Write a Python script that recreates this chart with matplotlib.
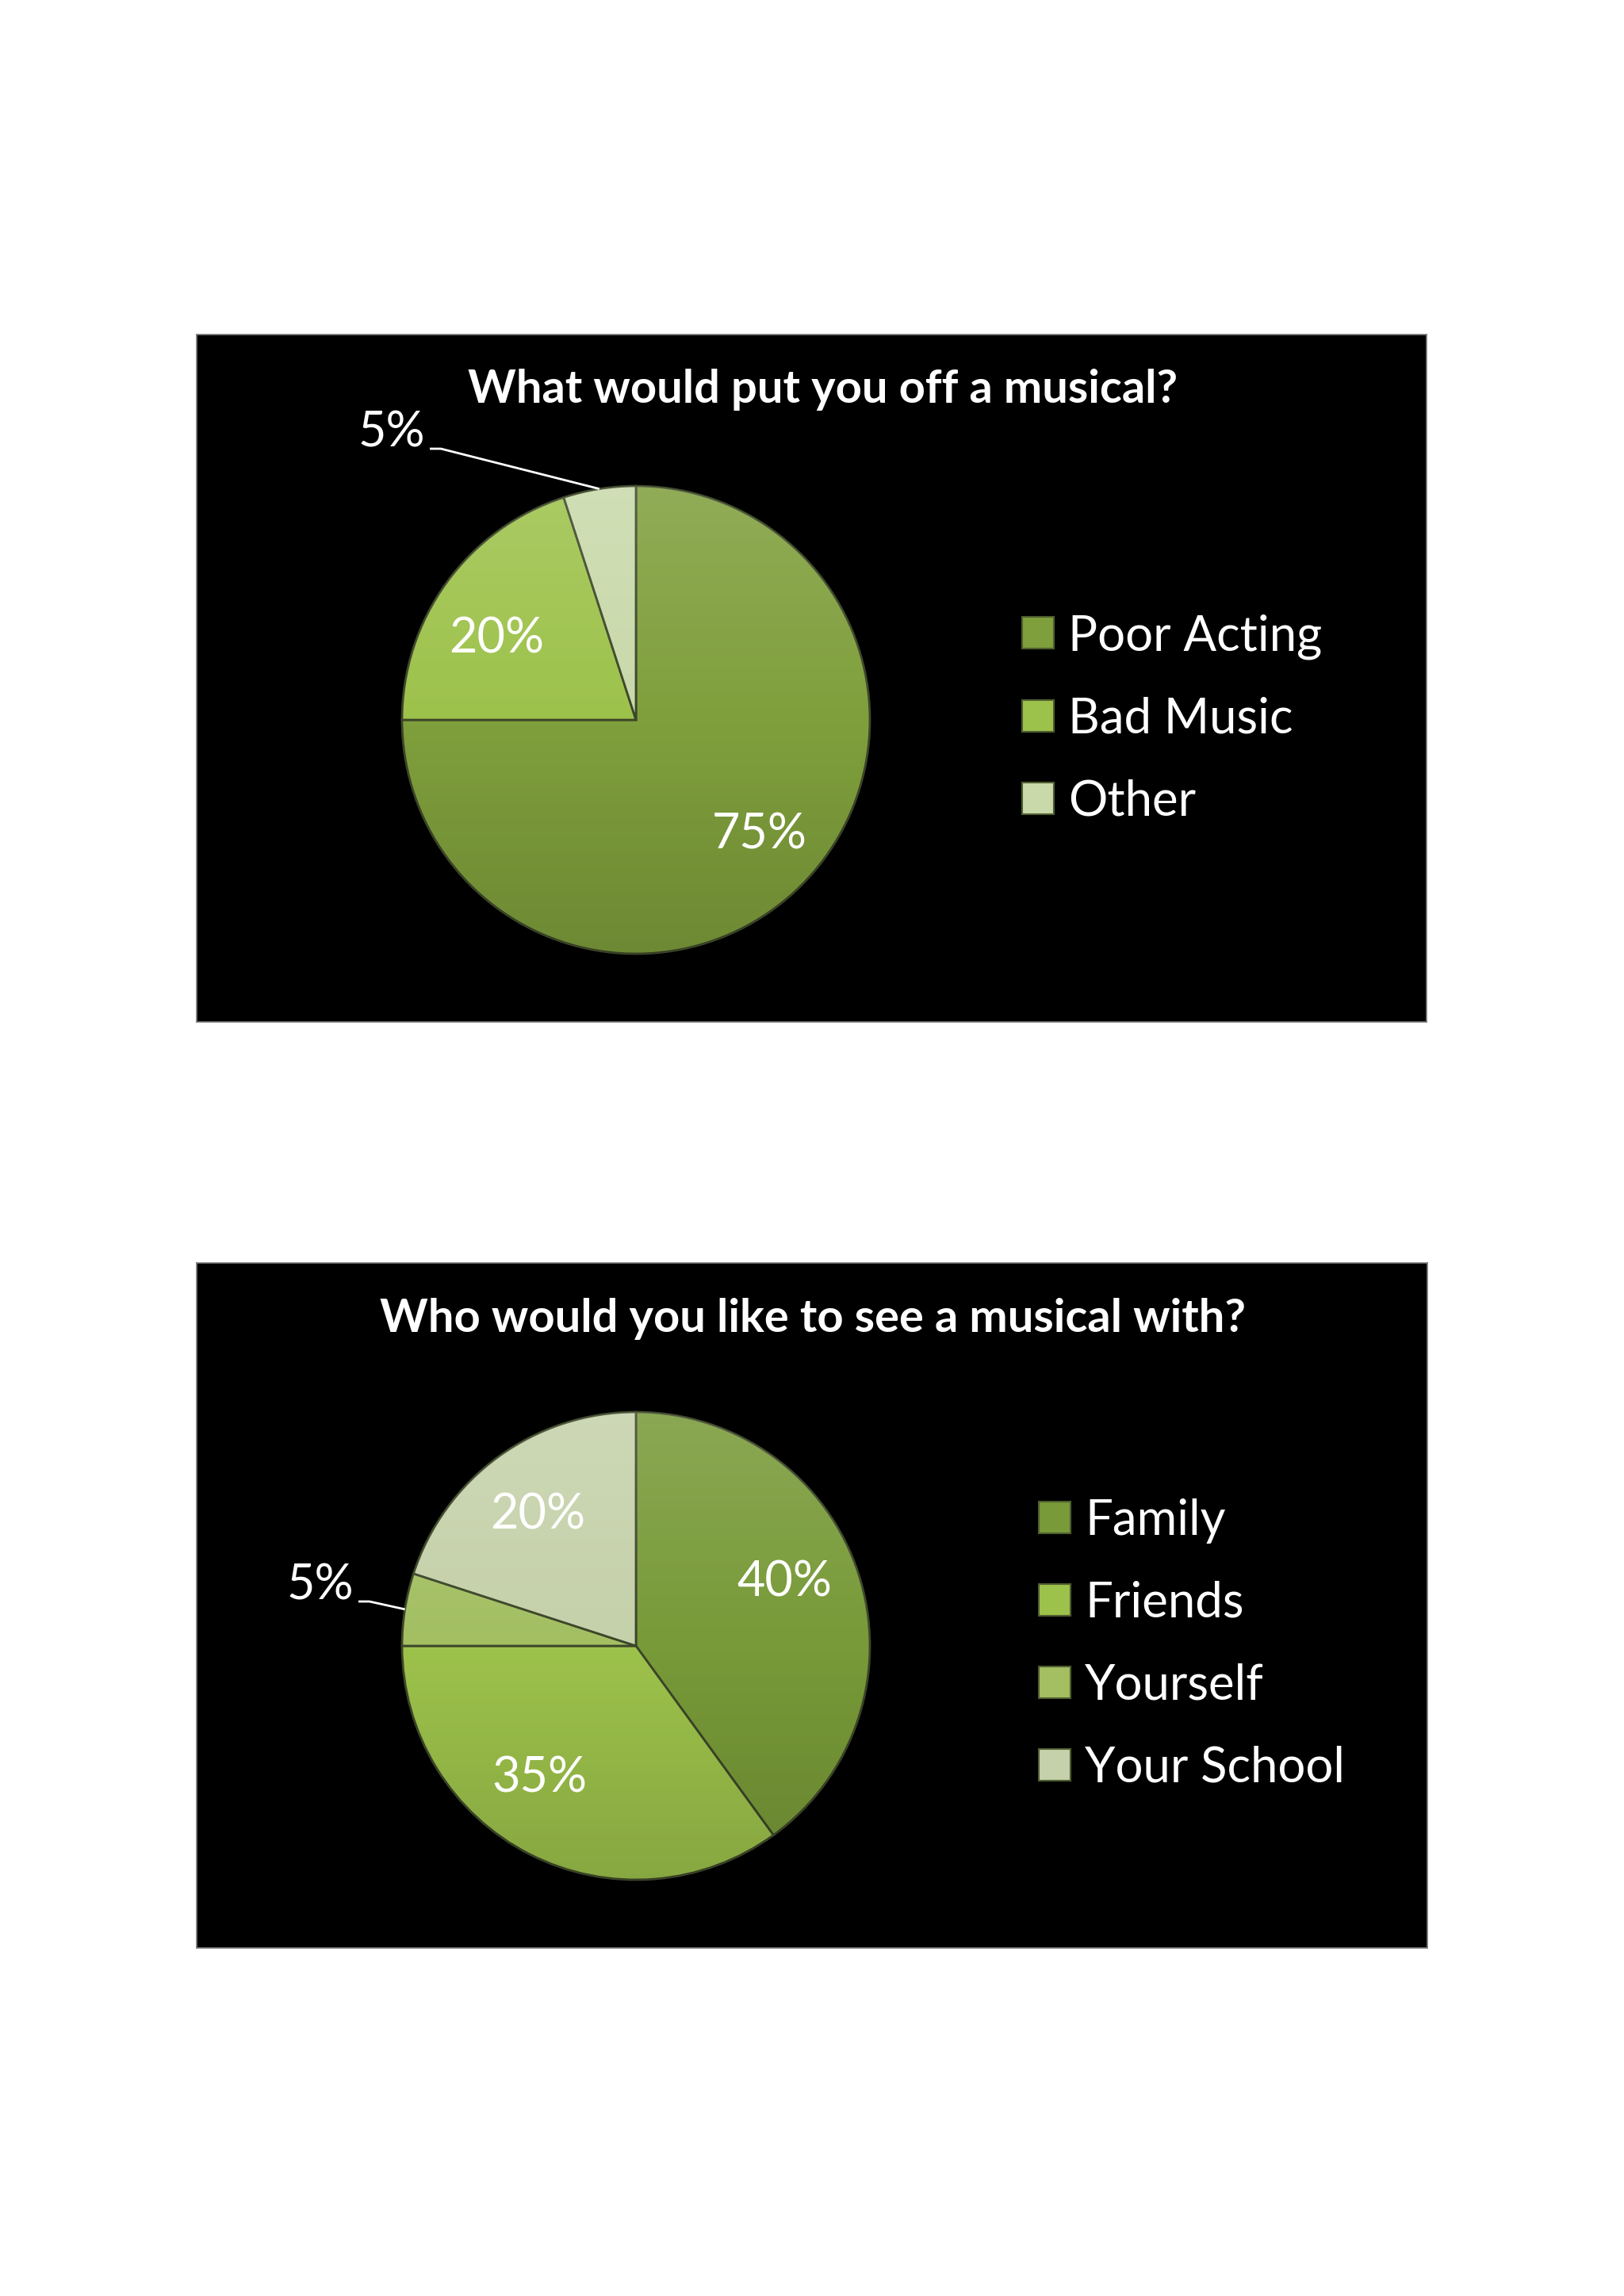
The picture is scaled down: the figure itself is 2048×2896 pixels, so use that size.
import matplotlib
matplotlib.use('Agg')
import matplotlib.pyplot as plt
import numpy as np
from matplotlib.lines import Line2D
from matplotlib.patches import Circle

plt.rcParams['font.family'] = ['Lato', 'DejaVu Sans']

# ---------------- data ----------------
title1 = 'What would put you off a musical?'
labels1 = ['Poor Acting', 'Bad Music', 'Other']
values1 = [75, 20, 5]
colors1 = ['#7F9F3C', '#9DC24B', '#C9D9AA']

title2 = 'Who would you like to see a musical with?'
labels2 = ['Family', 'Friends', 'Yourself', 'Your School']
values2 = [40, 35, 5, 20]
colors2 = ['#789A38', '#9DC24B', '#A3BF62', '#C5D1AA']

# label placement (polar: angle in degrees, distance as fraction of radius)
label_polar1 = [(-43, 0.72), (150, 0.69), None]
label_polar2 = [(23, 0.69), (-126, 0.70), None, (127, 0.70)]

W, H = 2048, 2896
fig = plt.figure(figsize=(W / 100, H / 100), dpi=100, facecolor='white')

LABEL_FS = 44
TITLE_FS = 41.7
LEGEND_FS = 44.5


def panel(box, title, labels, values, colors, label_polar, title_xy,
          legend_xy, small_text_off):
    x0, y0, x1, y1 = box
    pw, ph = x1 - x0, y1 - y0
    ax = fig.add_axes([x0 / W, 1 - y1 / H, pw / W, ph / H])
    cx, cy, r = 554, 381, 295
    wedges, texts, autotexts = ax.pie(
        values, colors=colors, startangle=90, counterclock=False,
        center=(cx, cy), radius=r, frame=True,
        wedgeprops=dict(edgecolor='#3c4629', linewidth=2),
        autopct=lambda p: '' if p < 10 else f'{p:.0f}%', pctdistance=0.7,
        textprops=dict(color='white', fontsize=LABEL_FS))
    for t, lp in zip(autotexts, label_polar):
        if lp is not None:
            a = np.deg2rad(lp[0])
            t.set_position((cx + lp[1] * r * np.cos(a), cy + lp[1] * r * np.sin(a)))
            t.set_zorder(5)

    # soft vertical shading over the pie
    grad = np.linspace(0, 1, 256)[:, None]
    rgba = np.zeros((256, 1, 4))
    rgba[..., :3] = np.where(grad < 0.5, 1.0, 0.0)[..., None]
    rgba[..., 3] = np.abs(grad - 0.5) * 0.28
    clip = Circle((cx, cy), r, transform=ax.transData)
    im = ax.imshow(rgba, extent=(cx - r, cx + r, cy - r, cy + r),
                   origin='upper', aspect='auto', zorder=2)
    im.set_clip_path(clip)

    ax.set_xlim(0, pw)
    ax.set_ylim(0, ph)
    ax.set_aspect('equal')
    ax.set_facecolor('black')
    ax.set_xticks([])
    ax.set_yticks([])
    for s in ax.spines.values():
        s.set_color('#7a7a7a')
        s.set_linewidth(1.2)

    # outside labels for small slices
    for w, v in zip(wedges, values):
        if v >= 10:
            continue
        mid = np.deg2rad((w.theta1 + w.theta2) / 2)
        ex, ey = cx + r * np.cos(mid), cy + r * np.sin(mid)
        tx, ty = cx + small_text_off[0], cy + small_text_off[1]
        ax.text(tx, ty, f'{v}%', color='white', fontsize=LABEL_FS,
                ha='center', va='center')
        sx, sy = tx + 48, ty - 20
        ax.plot([sx, sx + 14, ex], [sy, sy, ey], color='white', lw=2,
                solid_capstyle='butt', zorder=4)

    ax.text(title_xy[0], title_xy[1], title, color='white', fontsize=TITLE_FS,
            fontweight='bold', ha='center', va='center')

    handles = [Line2D([], [], marker='s', ls='', markersize=29,
                      markerfacecolor=c, markeredgecolor='#4f5d30',
                      markeredgewidth=1.5) for c in colors]
    leg = ax.legend(handles, labels, loc='upper left',
                    bbox_to_anchor=legend_xy, bbox_transform=ax.transData,
                    frameon=False, fontsize=LEGEND_FS, borderpad=0,
                    handlelength=1.0, handletextpad=0.12, labelspacing=0.76,
                    borderaxespad=0)
    for t in leg.get_texts():
        t.set_color('white')
    return ax


panel((248, 422, 1799, 1289), title1, labels1, values1, colors1, label_polar1,
      title_xy=(790, 797), legend_xy=(1030, 515), small_text_off=(-308, 362))
panel((248, 1593, 1800, 2457), title2, labels2, values2, colors2, label_polar2,
      title_xy=(777, 793), legend_xy=(1051, 567), small_text_off=(-398, 76))

fig.savefig('out.png', dpi=100, facecolor='white')
